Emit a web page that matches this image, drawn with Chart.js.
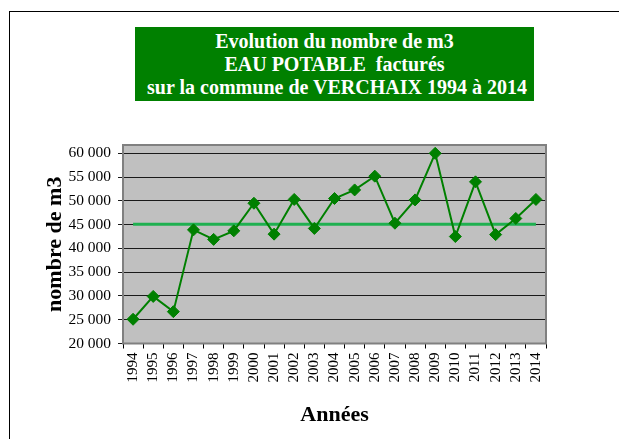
<!DOCTYPE html>
<html>
<head>
<meta charset="utf-8">
<script src="https://cdn.jsdelivr.net/npm/chart.js@4/dist/chart.umd.min.js"></script>
<style>
  html, body { margin: 0; padding: 0; background: #fff; }
  #wrap { position: relative; width: 619px; height: 439px; overflow: hidden; }
  #frame { position: absolute; left: 9px; top: 11px; width: 700px; height: 500px;
           border-left: 1px solid #000; border-top: 1px solid #000; box-sizing: border-box; }
  #title { position: absolute; left: 135px; top: 27px; width: 399px; height: 74px;
           background: #008000; color: #fff; font-family: "Liberation Serif", "Times New Roman", serif;
           font-weight: bold; font-size: 20px; line-height: 23px; text-align: center;
           display: flex; flex-direction: column; justify-content: center; white-space: pre; }
  canvas { position: absolute; left: 0; top: 0; }
</style>
</head>
<body>
<div id="wrap">
  <div id="frame"></div>
  <canvas id="c" width="619" height="439"></canvas>
  <div id="title"><div>Evolution du nombre de m3</div><div>EAU POTABLE  facturés</div><div> sur la commune de VERCHAIX 1994 à 2014</div></div>
</div>
<script>
const years = ["1994","1995","1996","1997","1998","1999","2000","2001","2002","2003","2004",
               "2005","2006","2007","2008","2009","2010","2011","2012","2013","2014"];
const volumes = [25100, 29900, 26700, 43900, 41900, 43700, 49500, 43000, 50300, 44200, 50500,
                 52300, 55200, 45300, 50200, 60000, 42500, 54000, 42900, 46300, 50300];
const average = [45100, 45100, 45100, 45100, 45100, 45100, 45100, 45100, 45100, 45100, 45100,
                 45100, 45100, 45100, 45100, 45100, 45100, 45100, 45100, 45100, 45100];
const yTicks = [20000, 25000, 30000, 35000, 40000, 45000, 50000, 55000, 60000];
const yTitle = "nombre de m3";
const xTitle = "Années";

const plotBg = {
  id: 'plotBg',
  beforeDraw(chart) {
    const a = chart.chartArea, ctx = chart.ctx;
    ctx.save();
    ctx.fillStyle = '#c0c0c0';
    ctx.fillRect(a.left, a.top, a.right - a.left, a.bottom - a.top);
    ctx.restore();
  },
  beforeDatasetsDraw(chart) {
    const a = chart.chartArea, ctx = chart.ctx;
    ctx.save();
    ctx.strokeStyle = '#808080';
    ctx.lineWidth = 2;
    ctx.strokeRect(a.left, a.top, a.right - a.left, a.bottom - a.top);
    ctx.restore();
  }
};

const serif = "'Liberation Serif', 'Times New Roman', serif";

new Chart(document.getElementById('c'), {
  type: 'line',
  data: {
    labels: years,
    datasets: [
      {
        data: volumes,
        borderColor: '#008000',
        backgroundColor: '#008000',
        borderWidth: 2,
        pointStyle: 'rectRot',
        pointRadius: 6,
        pointBorderWidth: 1,
        pointBorderColor: '#008000',
        pointBackgroundColor: '#008000',
        tension: 0,
        order: 0
      },
      {
        data: average,
        borderColor: '#1fb050',
        borderWidth: 3,
        pointRadius: 0,
        tension: 0,
        order: 1
      }
    ]
  },
  plugins: [plotBg],
  options: {
    responsive: false,
    animation: false,
    events: [],
    layout: { padding: { left: 42, right: 73, top: 145, bottom: 10 } },
    plugins: { legend: { display: false }, tooltip: { enabled: false }, title: { display: false } },
    scales: {
      x: {
        type: 'category',
        offset: true,
        grid: { offset: true, drawOnChartArea: false, drawTicks: true, tickLength: 5, color: '#000' },
        border: { display: false },
        ticks: {
          minRotation: 90, maxRotation: 90, autoSkip: false, padding: 4,
          color: '#000', font: { family: serif, size: 15 }
        },
        title: { display: true, text: xTitle, color: '#000', padding: 0,
                 font: { family: serif, size: 22, weight: 'bold' } },
        afterFit(scale) { scale.height = 85.5; }
      },
      y: {
        min: 20000,
        max: 61750,
        grid: { color: '#1a1a1a', lineWidth: 1, tickLength: 5, drawTicks: true },
        border: { display: false },
        ticks: {
          padding: 7, color: '#000',
          font: { family: serif, size: 15.5 },
          callback: v => String(v).replace(/\B(?=(\d{3})+(?!\d))/g, ' ')
        },
        afterBuildTicks(scale) { scale.ticks = yTicks.map(v => ({ value: v })); },
        title: { display: true, text: yTitle, color: '#000', padding: 0,
                 font: { family: serif, size: 22, weight: 'bold' } },
        afterFit(scale) { scale.width = 81; }
      }
    }
  }
});
</script>
</body>
</html>
